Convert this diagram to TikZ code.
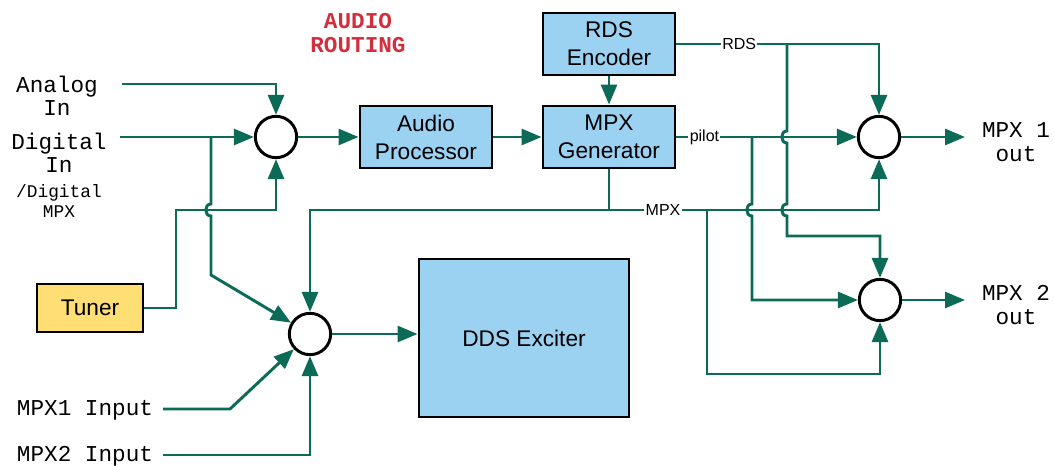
\documentclass[tikz,border=0pt]{standalone}
\usepackage{fontspec}
\setmainfont{Liberation Sans}
\setmonofont{Liberation Mono}
\usetikzlibrary{arrows.meta}
\definecolor{wire}{HTML}{0B6B57}
\definecolor{boxblue}{HTML}{9BD2F1}
\definecolor{tuneryellow}{HTML}{FFDE73}
\definecolor{routered}{HTML}{D12F3D}
\begin{document}
\begin{tikzpicture}[x=0.75pt, y=-0.75pt,
    wire/.style={draw=wire, line width=2.2pt},
    arr/.style={wire, -{Triangle[length=15pt, width=12pt]}},
    block/.style={rectangle, draw, line width=2.2pt, fill=boxblue, align=center,
        inner sep=0pt, font=\fontsize{17}{21}\selectfont},
    summer/.style={circle, draw, line width=2.2pt, fill=white, minimum size=31pt, inner sep=0pt},
    lbl/.style={font=\ttfamily\fontsize{17}{17.5}\selectfont, align=center, inner sep=0pt},
    tag/.style={fill=white, inner sep=1pt, font=\fontsize{12}{14}\selectfont}]
    \useasboundingbox (0,0) rectangle (1054,466);

    % blocks and summing points
    \node[block, minimum width=99pt, minimum height=46.5pt] (rds) at (609,44) {RDS\\Encoder};
    \node[block, minimum width=99pt, minimum height=46.5pt] (ap) at (426,137) {Audio\\Processor};
    \node[block, minimum width=99pt, minimum height=46.5pt] (mpxg) at (609,137) {MPX\\Generator};
    \node[block, minimum width=157.5pt, minimum height=118.5pt] (dds) at (524,338) {DDS Exciter};
    \node[block, fill=tuneryellow, minimum width=79.5pt, minimum height=36pt] (tuner) at (90,308) {Tuner};
    \node[summer] (s1) at (276,137) {};
    \node[summer] (s3) at (310,334) {};
    \node[summer] (s4) at (879,137) {};
    \node[summer] (s5) at (880,300) {};

    % texts
    \node[lbl, font=\ttfamily\bfseries\fontsize{17}{18}\selectfont, text=routered] (title) at (358,33) {AUDIO\\ROUTING};
    \node[lbl] (analog) at (57,96) {Analog\\In};
    \node[lbl] (digital) at (59,153) {Digital\\In};
    \node[lbl, font=\ttfamily\fontsize{13.4}{15.7}\selectfont] (digmpx) at (59,201) {/Digital\\MPX};
    \node[lbl] (mpx1in) at (85,410) {MPX1 Input};
    \node[lbl] (mpx2in) at (85,456) {MPX2 Input};
    \node[lbl] (out1) at (1016,142) {MPX 1\\out};
    \node[lbl] (out2) at (1016,305) {MPX 2\\out};

    \coordinate (ain) at (122,84);
    \coordinate (din) at (120,137);
    \coordinate (m1in) at (163,409);
    \coordinate (m2in) at (163,455);
    \coordinate (o1) at (965,137);
    \coordinate (o2) at (965,300);

    % audio side
    \draw[arr] (ain) -| (s1);
    \draw[arr] (din) -- (s1);
    \draw[arr] (tuner) -- (176,308) -- (176,210) -| (s1);
    \draw[arr] (211,137) -- (211,204) .. controls (204,204) and (204,216) .. (211,216) -- (211,275) -- (s3);
    \draw[arr] (s1) -- (ap);
    \draw[arr] (ap) -- (mpxg);
    \draw[arr] (rds) -- (mpxg);

    % MPX side
    \draw[arr] (m1in) -- (230,409) -- (s3);
    \draw[arr] (m2in) -| (s3);
    \draw[arr] (s3) -- (s3 -| dds.west);
    \draw[arr] (mpxg) -- (609,210) -| (s3);
    \draw[arr] (609,210) -| node[tag, pos=0.1] {MPX} (s4);
    \draw[arr] (707,210) -- (707,374) -| (s5);
    \draw[arr] (rds) -| node[tag, pos=0.155] {RDS} (s4);
    \draw[arr] (787,44) -- (787,131) .. controls (780,131) and (780,143) .. (787,143)
        -- (787,204) .. controls (780,204) and (780,216) .. (787,216) -- (787,236) -| (s5);
    \draw[arr] (mpxg) -- node[tag, pos=0.155] {pilot} (s4);
    \draw[arr] (752,137) -- (752,204) .. controls (745,204) and (745,216) .. (752,216) -- (752,300) -- (s5);
    \draw[arr] (s4) -- (o1);
    \draw[arr] (s5) -- (o2);
\end{tikzpicture}
\end{document}
